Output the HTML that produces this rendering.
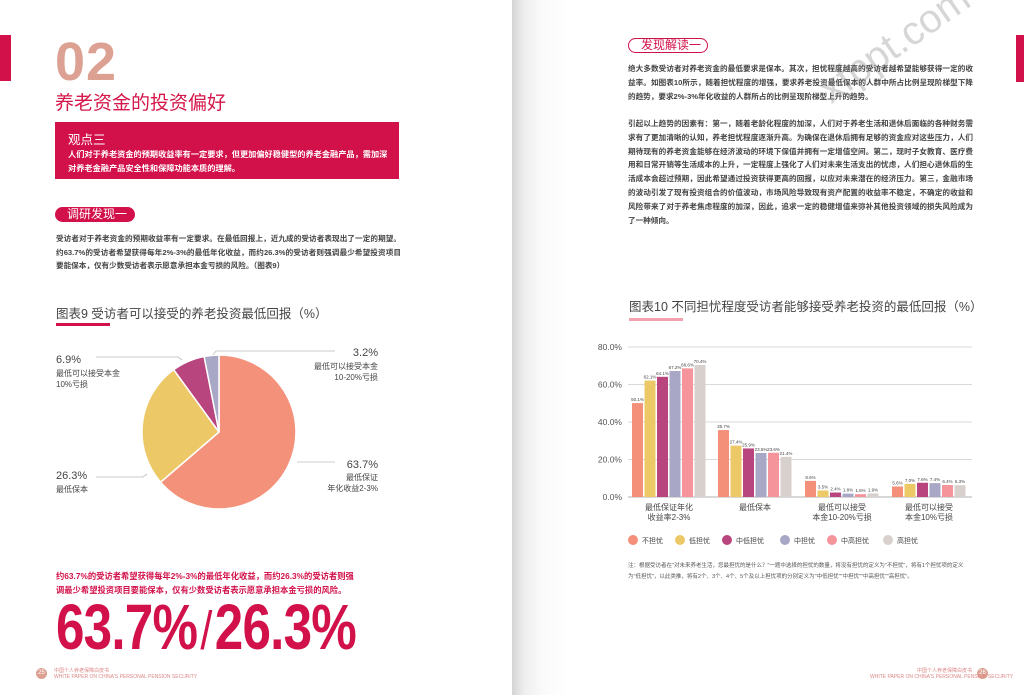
<!DOCTYPE html>
<html><head><meta charset="utf-8"><style>
*{margin:0;padding:0;box-sizing:border-box}
body{width:1024px;height:695px;overflow:hidden;background:#fff;position:relative;font-family:"Liberation Sans","Noto Sans CJK SC",sans-serif}
.a{position:absolute;white-space:nowrap}
.p{font-size:7.6px;color:#444;line-height:13.7px;position:absolute;width:345px;text-align:justify;font-weight:bold}
</style></head><body>
<div class="a" style="left:512px;top:0;width:512px;height:695px;background:linear-gradient(90deg,#d4d4d4 0px,#eee 12px,#fafafa 30px,#fff 60px)"></div>
<div class="a" style="left:0;top:35px;width:11px;height:46px;background:#d2104a"></div>
<div class="a" style="left:1016px;top:35px;width:8px;height:47px;background:#d2104a"></div>
<div class="a" style="left:55px;top:31px;font-size:54px;font-weight:bold;color:#dca192;letter-spacing:1px">02</div>
<div class="a" style="left:55px;top:88px;font-size:19px;color:#d5174a">养老资金的投资偏好</div>
<div class="a" style="left:55px;top:122px;width:344px;height:57px;background:#d2104a;color:#fff">
<div class="a" style="left:13px;top:7px;font-size:12.5px">观点三</div>
<div class="a" style="left:13px;top:26px;font-size:8.2px;font-weight:bold;line-height:13.5px;white-space:normal;width:325px">人们对于养老资金的预期收益率有一定要求，但更加偏好稳健型的养老金融产品，需加深对养老金融产品安全性和保障功能本质的理解。</div></div>
<div class="a" style="left:55px;top:207px;width:80px;height:15px;border-radius:8px;background:#d2104a;color:#fff;font-size:12px;line-height:15px;padding-left:12px">调研发现一</div>
<div class="p" style="left:56px;top:232px;line-height:13.5px">受访者对于养老资金的预期收益率有一定要求。在最低回报上，近九成的受访者表现出了一定的期望。约63.7%的受访者希望获得每年2%-3%的最低年化收益，而约26.3%的受访者则强调最少希望投资项目要能保本，仅有少数受访者表示愿意承担本金亏损的风险。（图表9）</div>
<div class="a" style="left:56px;top:303px;font-size:12.5px;color:#444">图表9 受访者可以接受的养老投资最低回报（%）</div>
<div class="a" style="left:56px;top:323px;width:54px;height:3px;background:#d2104a"></div>
<svg class="a" style="left:0;top:0" width="512" height="560">
<g stroke="#fff" stroke-width="1.5">
<path d="M219,432 L219,355 A77,77 0 1 1 160.6,482.2 Z" fill="#f4917a"/>
<path d="M219,432 L160.6,482.2 A77,77 0 0 1 173.7,369.7 Z" fill="#ecc867"/>
<path d="M219,432 L173.7,369.7 A77,77 0 0 1 204.1,356.5 Z" fill="#b9457e"/>
<path d="M219,432 L204.1,356.5 A77,77 0 0 1 219,355 Z" fill="#a9a7c6"/></g>
<g stroke="#bbb" stroke-width="0.8" fill="none">
<polyline points="213,355 216,351 335,351"/><polyline points="96,357 178,357 182,360"/>
<line x1="297" y1="462" x2="335" y2="462"/><polyline points="96,477 143,477 147,474"/></g>
<g font-size="11" fill="#444"><text x="378" y="356" text-anchor="end">3.2%</text><text x="56" y="363">6.9%</text><text x="378" y="468" text-anchor="end">63.7%</text><text x="56" y="479">26.3%</text></g>
<g font-size="8" fill="#444"><text x="378" y="369" text-anchor="end">最低可以接受本金</text><text x="378" y="380" text-anchor="end">10-20%亏损</text>
<text x="56" y="376">最低可以接受本金</text><text x="56" y="387">10%亏损</text>
<text x="378" y="480" text-anchor="end">最低保证</text><text x="378" y="491" text-anchor="end">年化收益2-3%</text><text x="56" y="492">最低保本</text></g>
</svg>
<div class="a" style="left:56px;top:570px;font-size:8.3px;color:#d2104a;line-height:13.5px;white-space:normal;width:300px;font-weight:bold">约63.7%的受访者希望获得每年2%-3%的最低年化收益，而约26.3%的受访者则强调最少希望投资项目要能保本，仅有少数受访者表示愿意承担本金亏损的风险。</div>
<div class="a" style="left:56px;top:590px;font-size:64px;font-weight:bold;color:#d2104a;transform:scaleX(0.8);transform-origin:0 0;letter-spacing:-1px">63.7%<span style="font-weight:normal;font-size:54px;margin:0 4px">/</span>26.3%</div>
<div class="a" style="left:36px;top:668px;width:11px;height:11px;border-radius:50%;background:#dca192;color:#fff;font-size:6px;text-align:center;line-height:11px">25</div>
<div class="a" style="left:54px;top:668px;font-size:5px;color:#d88;line-height:6px">中国个人养老保障白皮书<br>WHITE PAPER ON CHINA'S PERSONAL PENSION SECURITY</div>
<div class="a" style="left:977px;top:668px;width:11px;height:11px;border-radius:50%;background:#dca192;color:#fff;font-size:6px;text-align:center;line-height:11px">26</div>
<div class="a" style="left:870px;top:668px;font-size:5px;color:#d88;line-height:6px;text-align:right;width:102px">中国个人养老保障白皮书<br>WHITE PAPER ON CHINA'S PERSONAL PENSION SECURITY</div>
<div class="a" style="left:628px;top:38px;width:80px;height:15px;border-radius:8px;border:1px solid #d2104a;color:#d2104a;font-size:12px;line-height:13px;padding-left:12px">发现解读一</div>
<div class="p" style="left:628px;top:62px;line-height:14px">绝大多数受访者对养老资金的最低要求是保本。其次，担忧程度越高的受访者越希望能够获得一定的收益率。如图表10所示，随着担忧程度的增强，要求养老投资最低保本的人群中所占比例呈现阶梯型下降的趋势，要求2%-3%年化收益的人群所占的比例呈现阶梯型上升的趋势。</div>
<div class="p" style="left:628px;top:117px;line-height:13.8px">引起以上趋势的因素有：第一，随着老龄化程度的加深，人们对于养老生活和退休后面临的各种财务需求有了更加清晰的认知，养老担忧程度逐渐升高。为确保在退休后拥有足够的资金应对这些压力，人们期待现有的养老资金能够在经济波动的环境下保值并拥有一定增值空间。第二，现时子女教育、医疗费用和日常开销等生活成本的上升，一定程度上强化了人们对未来生活支出的忧虑，人们担心退休后的生活成本会超过预期，因此希望通过投资获得更高的回报，以应对未来潜在的经济压力。第三，金融市场的波动引发了现有投资组合的价值波动，市场风险导致现有资产配置的收益率不稳定，不确定的收益和风险带来了对于养老焦虑程度的加深，因此，追求一定的稳健增值来弥补其他投资领域的损失风险成为了一种倾向。</div>
<div class="a" style="left:835px;top:70px;font-size:40px;line-height:40px;color:rgba(120,120,120,0.3);transform:rotate(-35deg);transform-origin:0 100%">xfppt.com</div>
<div class="a" style="left:629px;top:296px;font-size:12.5px;color:#444">图表10 不同担忧程度受访者能够接受养老投资的最低回报（%）</div>
<div class="a" style="left:629px;top:318px;width:54px;height:3px;background:#f5a0b0"></div>
<svg class="a" style="left:0;top:0" width="1024" height="695" id="b"></svg>
<div class="a" style="left:628px;top:561px;font-size:5.5px;color:#555;line-height:11px;white-space:normal;width:345px">注：根据受访者在"对未来养老生活，您最担忧的是什么？"一题中选择的担忧的数量，将没有担忧的定义为"不担忧"，将有1个担忧项的定义为"低担忧"，以此类推，将有2个、3个、4个、5个及以上担忧项的分别定义为"中低担忧""中担忧""中高担忧""高担忧"。</div>
<script>
var d=[[50.1,62.1,64.1,67.2,68.6,70.4],[35.7,27.4,25.9,23.5,23.6,21.4],[8.6,3.5,2.4,1.8,1.5,1.9],[5.6,7.0,7.6,7.4,6.4,6.3]];
var c=["#f4907a","#ecc867","#b9457e","#a9a7c6","#f5949b","#d8d0cc"];
var gx=[632,718,805,892],s='',y0=497,k=150/80;
for(var i=0;i<=4;i++){var y=y0-i*20*k;s+='<line x1="628" x2="972" y1="'+y+'" y2="'+y+'" stroke="'+(i?'#ccc':'#999')+'" stroke-width="0.8"/><text x="622" y="'+(y+3)+'" text-anchor="end" font-size="8.5" fill="#555">'+(i*20)+'.0%</text>';}
for(var g=0;g<4;g++)for(var j=0;j<6;j++){var x=gx[g]+j*12.5,h=d[g][j]*k;s+='<rect x="'+x+'" y="'+(y0-h)+'" width="11" height="'+h+'" fill="'+c[j]+'"/><text x="'+(x+5.5)+'" y="'+(y0-h-2)+'" text-anchor="middle" font-size="4.5" fill="#444">'+d[g][j].toFixed(1)+'%</text>';}
var L=[["最低保证年化","收益率2-3%"],["最低保本",""],["最低可以接受","本金10-20%亏损"],["最低可以接受","本金10%亏损"]];
for(g=0;g<4;g++){var cx=gx[g]+37;s+='<text x="'+cx+'" y="510" text-anchor="middle" font-size="8" fill="#444">'+L[g][0]+'</text><text x="'+cx+'" y="520" text-anchor="middle" font-size="8" fill="#444">'+L[g][1]+'</text>';}
var n=["不担忧","低担忧","中低担忧","中担忧","中高担忧","高担忧"],lx=[633,680,727,785,832,888];
for(j=0;j<6;j++)s+='<circle cx="'+lx[j]+'" cy="540" r="5" fill="'+c[j]+'"/><text x="'+(lx[j]+9)+'" y="543" font-size="7" fill="#444">'+n[j]+'</text>';
document.getElementById('b').innerHTML=s;
</script>
</body></html>
